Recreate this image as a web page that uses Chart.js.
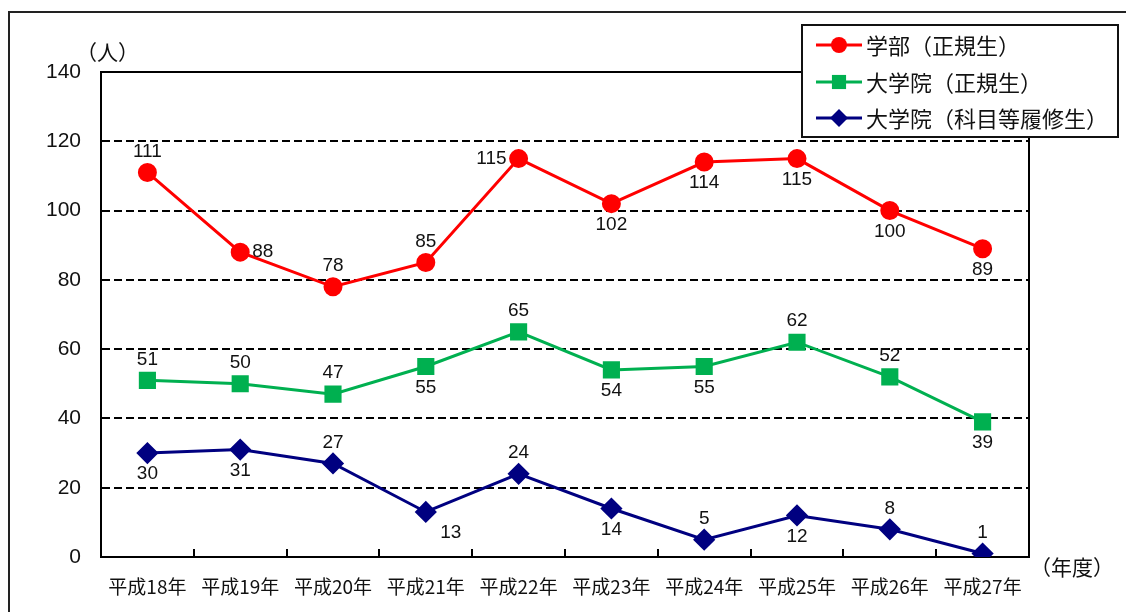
<!DOCTYPE html>
<html>
<head>
<meta charset="utf-8">
<script src="https://cdn.jsdelivr.net/npm/chart.js@4.4.1/dist/chart.umd.min.js"></script>
<style>
  html, body { margin: 0; padding: 0; background: #fff; overflow: hidden; }
  .wrap { position: relative; width: 1126px; height: 612px; }
  .frame { position: absolute; left: 8px; top: 11px; width: 1200px; height: 700px;
           border-left: 2px solid #222; border-top: 2px solid #222; }
  canvas { position: absolute; left: 0; top: 0; }
</style>
</head>
<body>
<div class="wrap">
  <div class="frame"></div>
  <canvas id="myChart" width="1126" height="612"></canvas>
</div>
<script>
const years = ['平成18年', '平成19年', '平成20年', '平成21年', '平成22年',
               '平成23年', '平成24年', '平成25年', '平成26年', '平成27年']
const seriesNames = ['学部（正規生）', '大学院（正規生）', '大学院（科目等履修生）']
const undergrad = [111, 88, 78, 85, 115, 102, 114, 115, 100, 89]
const gradRegular = [51, 50, 47, 55, 65, 54, 55, 62, 52, 39]
const gradCourse = [30, 31, 27, 13, 24, 14, 5, 12, 8, 1]
const yTicks = [0, 20, 40, 60, 80, 100, 120, 140]

// where each value label sits relative to its point
const labelSpots = [
    ['top', 'right', 'top', 'top', 'left', 'bottom', 'bottom', 'bottom', 'bottom', 'bottom'],
    ['top', 'top', 'top', 'bottom', 'top', 'bottom', 'bottom', 'top', 'top', 'bottom'],
    ['bottom', 'bottom', 'top', 'bottomRight', 'top', 'bottom', 'top', 'bottom', 'top', 'top']
]

const numFont = '"Liberation Sans", Arial, sans-serif'
const jpFont = '"Noto Sans CJK JP", sans-serif'

const extras = {
    id: 'extras',
    afterDraw(chart){
        const ctx = chart.ctx
        const {left, right, top, bottom} = chart.chartArea
        const xs = chart.scales.x
        ctx.save()

        // frame top/right + inner ticks on the x axis
        ctx.strokeStyle = '#000'
        ctx.lineWidth = 2
        ctx.beginPath()
        ctx.moveTo(left, top); ctx.lineTo(right, top); ctx.lineTo(right, bottom)
        const half = (xs.getPixelForValue(1) - xs.getPixelForValue(0)) / 2
        for(let i = 1; i < years.length; i++){
            const x = Math.round(xs.getPixelForValue(i) - half)
            ctx.moveTo(x, bottom); ctx.lineTo(x, bottom - 8)
        }
        ctx.stroke()

        // value labels
        ctx.fillStyle = '#111'
        ctx.font = '19px ' + numFont
        chart.data.datasets.forEach((ds, d) => {
            const meta = chart.getDatasetMeta(d)
            meta.data.forEach((pt, i) => {
                const spot = labelSpots[d][i]
                let x = pt.x, y = pt.y
                ctx.textAlign = 'center'
                ctx.textBaseline = 'middle'
                if(spot === 'top') y -= 21
                else if(spot === 'bottom') y += 21
                else if(spot === 'right'){ ctx.textAlign = 'left'; x += 12 }
                else if(spot === 'left'){ ctx.textAlign = 'right'; x -= 12 }
                else if(spot === 'bottomRight'){ x += 25; y += 21 }
                ctx.fillText(String(ds.data[i]), x, y)
            })
        })

        // unit labels
        ctx.font = '21px ' + jpFont
        ctx.textAlign = 'left'
        ctx.textBaseline = 'middle'
        ctx.fillStyle = '#111'
        ctx.fillText('（人）', 76, 52)
        ctx.fillText('（年度）', 1030, 567)

        // legend box
        const box = {x: 802, y: 25, w: 316, h: 112}
        ctx.fillStyle = '#fff'
        ctx.fillRect(box.x, box.y, box.w, box.h)
        ctx.strokeStyle = '#111'
        ctx.lineWidth = 2
        ctx.strokeRect(box.x, box.y, box.w, box.h)
        const rows = [45, 82, 118]
        chart.data.datasets.forEach((ds, d) => {
            const y = rows[d]
            ctx.strokeStyle = ds.borderColor
            ctx.lineWidth = 3
            ctx.beginPath()
            ctx.moveTo(816, y); ctx.lineTo(862, y)
            ctx.stroke()
            ctx.fillStyle = ds.backgroundColor
            Chart.helpers.drawPoint(ctx, {pointStyle: ds.pointStyle, radius: ds.pointRadius, rotation: 0, borderWidth: 0}, 839, y)
            ctx.fillStyle = '#111'
            ctx.font = '22px ' + jpFont
            ctx.textAlign = 'left'
            ctx.fillText(ds.label, 866, y + 1)
        })

        ctx.restore()
    }
}

const ctx = document.getElementById('myChart').getContext('2d')
new Chart(ctx, {
    type: 'line',
    data: {
        labels: years,
        datasets: [
            {label: seriesNames[0], data: undergrad, borderColor: '#FF0000', backgroundColor: '#FF0000',
             pointStyle: 'circle', pointRadius: 8, borderWidth: 3},
            {label: seriesNames[1], data: gradRegular, borderColor: '#00B050', backgroundColor: '#00B050',
             pointStyle: 'rect', pointRadius: 10, borderWidth: 3},
            {label: seriesNames[2], data: gradCourse, borderColor: '#000080', backgroundColor: '#000080',
             pointStyle: 'rectRot', pointRadius: 9, borderWidth: 3}
        ]
    },
    options: {
        responsive: false,
        animation: false,
        layout: {padding: {left: 6, top: 72, right: 97, bottom: 5}},
        elements: {
            line: {tension: 0},
            point: {borderWidth: 0, hoverRadius: 8}
        },
        plugins: {legend: {display: false}, tooltip: {enabled: false}},
        scales: {
            x: {
                offset: true,
                grid: {display: false},
                border: {display: true, color: '#000', width: 2},
                ticks: {color: '#111', font: {family: jpFont, size: 19}, padding: 10, maxRotation: 0, autoSkip: false},
                afterFit(scale){ scale.height = 50 }
            },
            y: {
                min: 0,
                max: 140,
                afterBuildTicks(scale){ scale.ticks = yTicks.map(v => ({value: v})) },
                grid: {color: '#000', lineWidth: 2, drawTicks: false},
                border: {display: true, color: '#000', width: 2, dash: [8, 4]},
                ticks: {color: '#111', font: {family: numFont, size: 21}, padding: 20},
                afterFit(scale){ scale.width = 95 }
            }
        }
    },
    plugins: [extras]
})
</script>
</body>
</html>
